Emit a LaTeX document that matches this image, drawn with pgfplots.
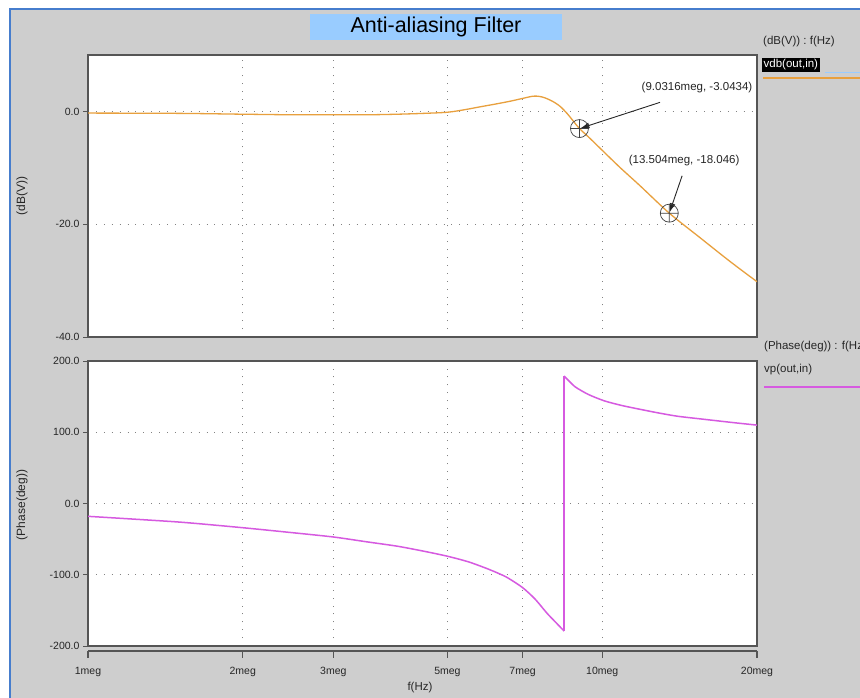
\documentclass[border=0pt]{standalone}
\usepackage{pgfplots}
\pgfplotsset{compat=1.18}
\usetikzlibrary{arrows.meta}
\usepackage{fontspec}
\setmainfont{Liberation Sans}
\definecolor{bg}{RGB}{206,206,206}
\definecolor{winblue}{RGB}{70,125,205}
\definecolor{titlebox}{RGB}{153,204,255}
\definecolor{curveorange}{RGB}{232,160,62}
\definecolor{curvemag}{RGB}{214,90,224}
\definecolor{frame}{RGB}{85,85,85}
\definecolor{gridc}{RGB}{130,130,130}
\begin{document}
\begin{tikzpicture}[x=1pt,y=1pt]
\path[use as bounding box] (0,0) rectangle (860,698);
\fill[white] (0,0) rectangle (860,698);
\fill[bg] (10,0) rectangle (860,689);
\draw[winblue, line width=2pt] (10,0) -- (10,689) -- (860,689);

% title
\node[fill=titlebox, minimum width=252pt, minimum height=26pt, inner sep=0pt,
      font=\fontsize{21.5}{24}\selectfont] at (436,671) {Anti-aliasing Filter};

% top panel
\begin{axis}[at={(88pt,361pt)}, anchor=south west,
  scale only axis, width=669pt, height=282pt,
  xmode=log, xmin=1, xmax=20,
  axis background/.style={fill=white},
  axis line style={draw=frame, line width=1.4pt},
  grid=major,
  major grid style={draw=gridc, line width=0.9pt, dash pattern=on 0.9pt off 7pt},
  xtick={2,3,5,7,10}, xticklabels={},
  xtick style={draw=none},
  xminorticks=false, yminorticks=false,
  tick align=outside, ytick pos=left,
  ytick style={draw=frame, line width=0.9pt},
  major tick length=5pt,
  tick label style={font=\fontsize{10.5}{12}\selectfont, text=black!85},
  ymin=-40, ymax=10, ytick={-40,-20,0}, yticklabels={-40.0,-20.0,0.0}]
\addplot[curveorange, line width=1.3pt, smooth, tension=0.5] coordinates {
(1,-0.3) (1.5,-0.35) (2,-0.5) (2.5,-0.6) (3,-0.6) (3.5,-0.6) (4,-0.5)
(4.5,-0.35) (5,-0.15) (5.4,0.3) (5.78,0.8) (6.2,1.3) (6.62,1.8) (7.0,2.3)
(7.34,2.7) (7.55,2.65) (7.74,2.4) (8.0,1.8) (8.28,0.9) (8.55,-0.4) (8.8,-1.8)
(9.0316,-3.0434) (9.47,-4.8) (10,-6.9) (10.83,-9.95) (11.85,-13.2)
(13.504,-18.046) (15.5,-22.4) (17.72,-26.6) (20,-30.2)};
\addplot[only marks, mark=oplus, mark size=9pt, mark options={draw=black!75, line width=0.7pt}]
  coordinates {(9.0316,-3.0434) (13.504,-18.046)};
\node[font=\fontsize{11.5}{13}\selectfont, text=black!85] at (axis cs:15.29,4.29) {(9.0316meg, -3.0434)};
\node[font=\fontsize{11.5}{13}\selectfont, text=black!85] at (axis cs:14.43,-8.75) {(13.504meg, -18.046)};
\draw[black!85, line width=0.9pt, -{Latex[length=9pt,width=6pt]}, shorten >=1pt] (axis cs:12.95,1.6) -- (axis cs:9.0316,-3.0434);
\draw[black!85, line width=0.9pt, -{Latex[length=9pt,width=6pt]}, shorten >=1pt] (axis cs:14.3,-11.43) -- (axis cs:13.504,-18.046);
\end{axis}

% bottom panel
\begin{axis}[at={(88pt,52pt)}, anchor=south west,
  scale only axis, width=669pt, height=285pt,
  xmode=log, xmin=1, xmax=20,
  axis background/.style={fill=white},
  axis line style={draw=frame, line width=1.4pt},
  grid=major,
  major grid style={draw=gridc, line width=0.9pt, dash pattern=on 0.9pt off 7pt},
  xtick={2,3,5,7,10}, xticklabels={},
  xtick style={draw=none},
  xminorticks=false, yminorticks=false,
  tick align=outside, ytick pos=left,
  ytick style={draw=frame, line width=0.9pt},
  major tick length=5pt,
  tick label style={font=\fontsize{10.5}{12}\selectfont, text=black!85},
  ymin=-200, ymax=200, ytick={-200,-100,0,100,200},
  yticklabels={-200.0,-100.0,0.0,100.0,200.0}]
\addplot[curvemag, line width=1.5pt, smooth, tension=0.4] coordinates {
(1,-18) (1.5,-26) (2,-34) (2.5,-41) (3,-47) (3.5,-54) (4,-60) (4.5,-67) (5,-74)
(5.5,-82) (6,-92) (6.5,-103) (7,-118) (7.4,-134) (7.81,-154) (8.1,-166) (8.43,-179)};
\addplot[curvemag, line width=1.5pt] coordinates {(8.43,-179) (8.43,179)};
\addplot[curvemag, line width=1.5pt, smooth, tension=0.4] coordinates {
(8.43,179) (8.85,164) (9.4,153) (10.1,144) (11,137) (12.67,128) (14,122.5) (15.85,118) (18,113.5) (20,110)};
\end{axis}

% x axis (offset below bottom panel)
\begin{axis}[at={(88pt,47pt)}, anchor=south west, scale only axis, width=669pt, height=1pt,
  xmode=log, xmin=1, xmax=20, ymin=0, ymax=1,
  axis x line*=bottom, axis y line=none,
  axis line style={draw=frame, line width=1.4pt},
  xtick={1,2,3,5,7,10,20},
  xticklabels={1meg,2meg,3meg,5meg,7meg,10meg,20meg},
  xminorticks=false,
  tick align=outside, major tick length=7pt,
  xtick style={draw=frame, line width=1.2pt},
  tick label style={font=\fontsize{10.5}{12}\selectfont, text=black!85},
  xticklabel style={yshift=-6pt}]
\addplot[draw=none] coordinates {(1,0) (20,0)};
\end{axis}

% axis labels
\node[rotate=90, font=\fontsize{12}{14}\selectfont, text=black!85] at (22,502) {(dB(V))};
\node[rotate=90, font=\fontsize{12}{14}\selectfont, text=black!85] at (22,193) {(Phase(deg))};
\node[font=\fontsize{11.5}{13}\selectfont, text=black!85] at (420,10) {f(Hz)};

% right-hand trace labels
\node[anchor=west, inner sep=0pt, font=\fontsize{11.5}{13}\selectfont, text=black!85] at (763,656) {(dB(V)) : f(Hz)};
\node[anchor=west, fill=black, text=white, inner sep=1.5pt, font=\fontsize{11.5}{13}\selectfont] at (762,633) {vdb(out,in)};
\draw[titlebox, line width=0.8pt] (825,626) -- (860,626);
\draw[curveorange, line width=1.5pt] (763,620) -- (860,620);
\node[anchor=west, inner sep=0pt, font=\fontsize{11.5}{13}\selectfont, text=black!85] at (764,351) {(Phase(deg)) : f(Hz)};
\node[anchor=west, inner sep=0pt, font=\fontsize{11.5}{13}\selectfont, text=black!85] at (764,328) {vp(out,in)};
\draw[curvemag, line width=1.5pt] (764,311) -- (860,311);
\end{tikzpicture}
\end{document}
